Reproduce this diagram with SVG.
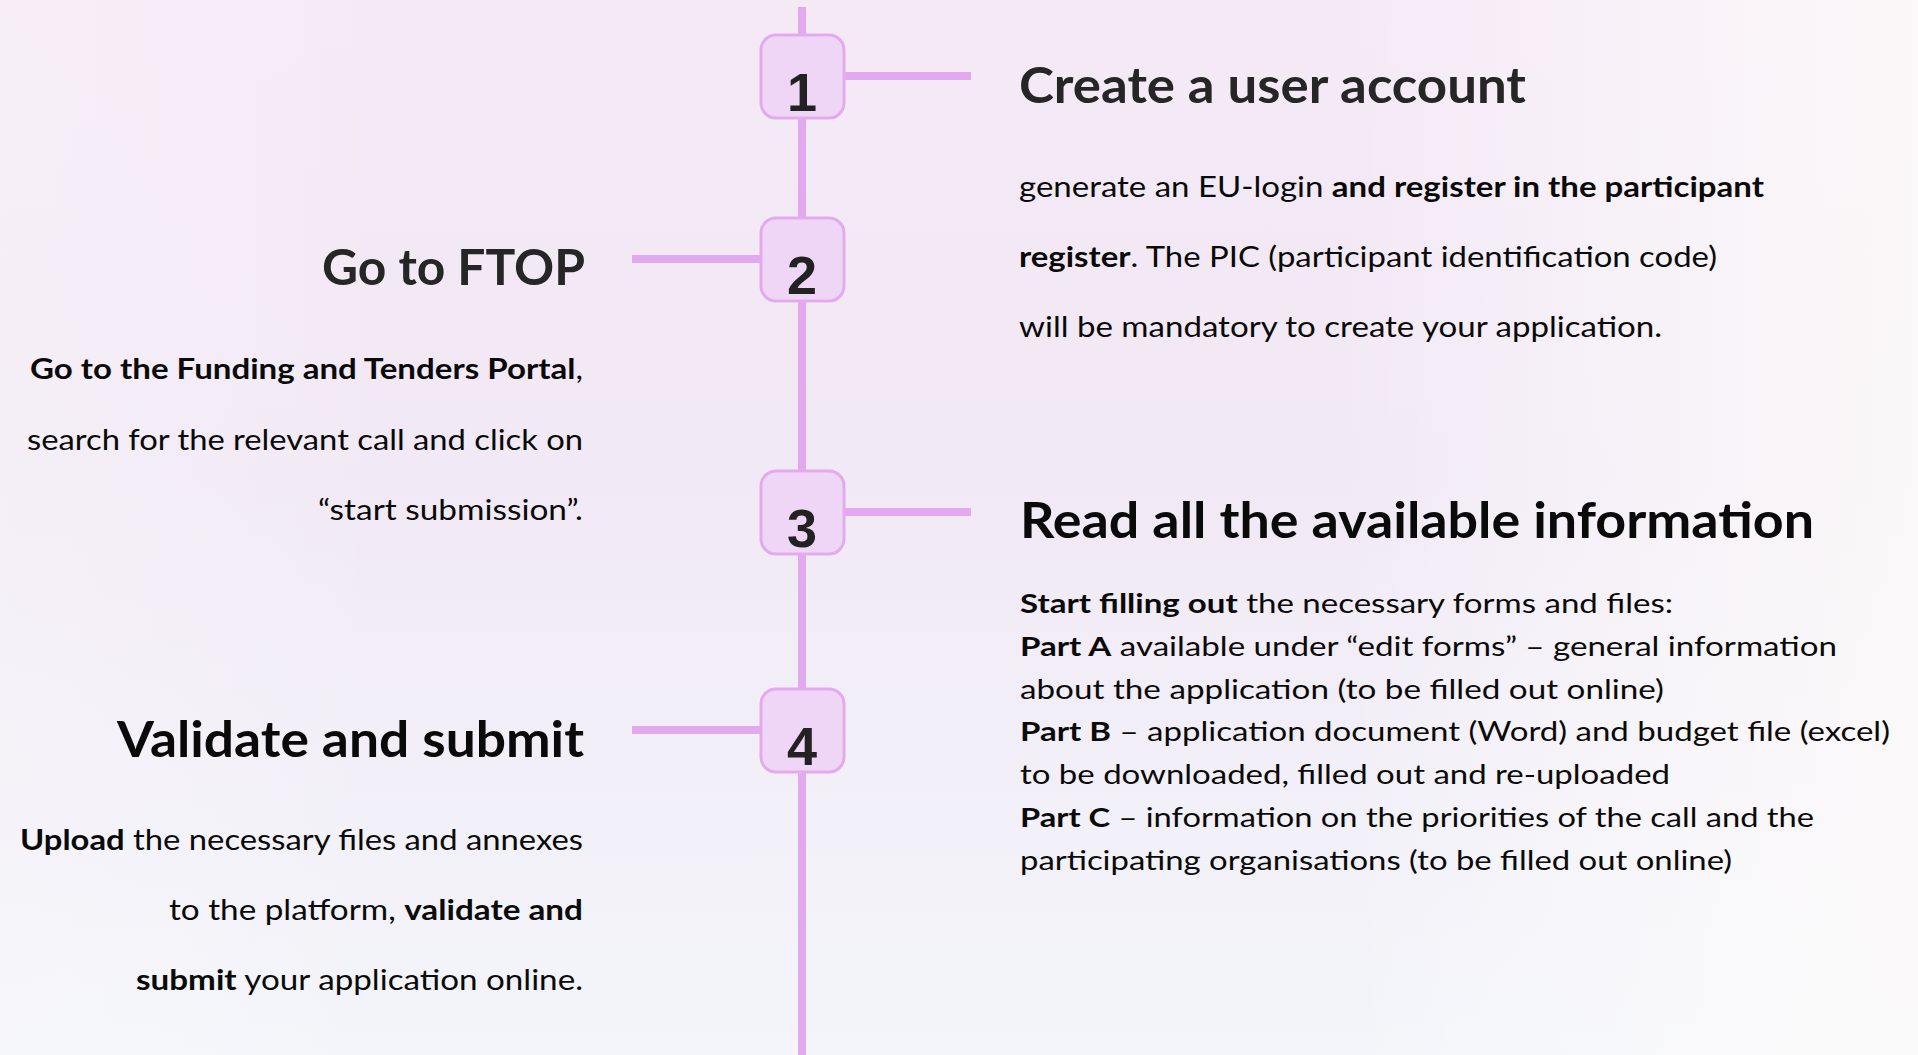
<svg xmlns="http://www.w3.org/2000/svg" width="1918" height="1055" viewBox="0 0 1918 1055">
<defs>
<linearGradient id="bgV" x1="0" y1="0" x2="0" y2="1">
<stop offset="0" stop-color="#f5e9f6"/>
<stop offset="0.45" stop-color="#f1e9f5"/>
<stop offset="1" stop-color="#f3f5fa"/>
</linearGradient>
<linearGradient id="bgH" x1="0" y1="0" x2="1" y2="0">
<stop offset="0" stop-color="#fbf9fb" stop-opacity="0.35"/>
<stop offset="0.2" stop-color="#ffffff" stop-opacity="0"/>
<stop offset="0.7" stop-color="#ffffff" stop-opacity="0"/>
<stop offset="1" stop-color="#fcfaf9" stop-opacity="0.85"/>
</linearGradient>
<style>
.ln{stroke:#e2a9ee;stroke-width:8;fill:none}
.box{fill:#f0d6f6;stroke:#e3abee;stroke-width:3}
.num{font-family:"Liberation Sans",Arial,sans-serif;font-weight:bold;font-size:54px;fill:#222222;text-anchor:middle}
.ttl{font-family:Lato,"Liberation Sans",sans-serif;font-weight:bold;font-size:49px}
.bd{font-family:Lato,"Liberation Sans",sans-serif;font-size:28px;fill:#0a0a0a}
.bd3{font-family:Lato,"Liberation Sans",sans-serif;font-size:26px;fill:#0a0a0a}
.b{font-weight:bold}
</style>
</defs>
<rect x="0" y="0" width="1918" height="1055" fill="url(#bgV)"/>
<rect x="0" y="0" width="1918" height="1055" fill="url(#bgH)"/>

<g id="connectors">
<line class="ln" x1="802" y1="7" x2="802" y2="1055"/>
<line class="ln" x1="844" y1="76" x2="971" y2="76"/>
<line class="ln" x1="632" y1="259" x2="761" y2="259"/>
<line class="ln" x1="844" y1="512" x2="971" y2="512"/>
<line class="ln" x1="632" y1="730" x2="761" y2="730"/>
</g>

<g id="step1">
<rect class="box" x="761" y="35" width="83" height="83" rx="15"/>
<text class="num" x="802" y="111">1</text>
<text class="ttl" x="1019" y="103" fill="#262626" textLength="507" lengthAdjust="spacingAndGlyphs">Create a user account</text>
<text class="bd" x="1019" y="197" textLength="745" lengthAdjust="spacingAndGlyphs">generate an EU-login <tspan class="b">and register in the participant</tspan></text>
<text class="bd" x="1019" y="267" textLength="698" lengthAdjust="spacingAndGlyphs"><tspan class="b">register</tspan>. The PIC (participant identification code)</text>
<text class="bd" x="1019" y="337" textLength="643" lengthAdjust="spacingAndGlyphs">will be mandatory to create your application.</text>
</g>

<g id="step2">
<rect class="box" x="761" y="218" width="83" height="83" rx="15"/>
<text class="num" x="802" y="294">2</text>
<text class="ttl" x="322" y="285" fill="#262626" textLength="263" lengthAdjust="spacingAndGlyphs">Go to FTOP</text>
<text class="bd" x="30" y="379" textLength="553" lengthAdjust="spacingAndGlyphs"><tspan class="b">Go to the Funding and Tenders Portal</tspan>,</text>
<text class="bd" x="27" y="450" textLength="556" lengthAdjust="spacingAndGlyphs">search for the relevant call and click on</text>
<text class="bd" x="318" y="520" textLength="265" lengthAdjust="spacingAndGlyphs">“start submission”.</text>
</g>

<g id="step3">
<rect class="box" x="761" y="471" width="83" height="83" rx="15"/>
<text class="num" x="802" y="547">3</text>
<text class="ttl" x="1020" y="538" fill="#0a0a0a" textLength="794" lengthAdjust="spacingAndGlyphs">Read all the available information</text>
<text class="bd3" x="1020" y="613" textLength="653" lengthAdjust="spacingAndGlyphs"><tspan class="b">Start filling out</tspan> the necessary forms and files:</text>
<text class="bd3" x="1020" y="656" textLength="817" lengthAdjust="spacingAndGlyphs"><tspan class="b">Part A</tspan> available under “edit forms” – general information</text>
<text class="bd3" x="1020" y="699" textLength="644" lengthAdjust="spacingAndGlyphs">about the application (to be filled out online)</text>
<text class="bd3" x="1020" y="741" textLength="870" lengthAdjust="spacingAndGlyphs"><tspan class="b">Part B</tspan> – application document (Word) and budget file (excel)</text>
<text class="bd3" x="1020" y="784" textLength="650" lengthAdjust="spacingAndGlyphs">to be downloaded, filled out and re-uploaded</text>
<text class="bd3" x="1020" y="827" textLength="794" lengthAdjust="spacingAndGlyphs"><tspan class="b">Part C</tspan> – information on the priorities of the call and the</text>
<text class="bd3" x="1020" y="870" textLength="712" lengthAdjust="spacingAndGlyphs">participating organisations (to be filled out online)</text>
</g>

<g id="step4">
<rect class="box" x="761" y="689" width="83" height="83" rx="15"/>
<text class="num" x="802" y="765">4</text>
<text class="ttl" x="117" y="757" fill="#0a0a0a" font-size="51" textLength="467" lengthAdjust="spacingAndGlyphs">Validate and submit</text>
<text class="bd" x="20" y="850" textLength="563" lengthAdjust="spacingAndGlyphs"><tspan class="b">Upload</tspan> the necessary files and annexes</text>
<text class="bd" x="169" y="920" textLength="414" lengthAdjust="spacingAndGlyphs">to the platform, <tspan class="b">validate and</tspan></text>
<text class="bd" x="136" y="990" textLength="447" lengthAdjust="spacingAndGlyphs"><tspan class="b">submit</tspan> your application online.</text>
</g>
</svg>
